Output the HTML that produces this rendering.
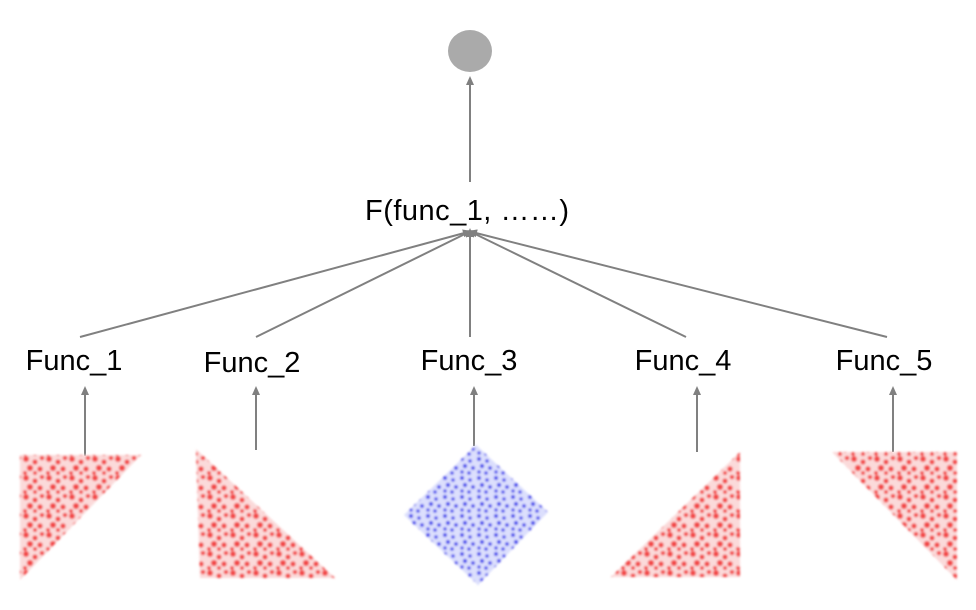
<!DOCTYPE html>
<html><head><style>body{margin:0;background:#fff}svg{display:block}text{font-family:"Liberation Sans",sans-serif;font-size:29px;fill:#000}</style></head><body>
<svg width="976" height="610" viewBox="0 0 976 610">
<defs>
<marker id="a" markerWidth="10" markerHeight="10" refX="5" refY="5" orient="auto" markerUnits="userSpaceOnUse"><path d="M0,1 L9,5 L0,9 z" fill="#808080"/></marker>
<filter id="b"><feGaussianBlur stdDeviation="1.1"/></filter>
<pattern id="r" width="23" height="19" patternUnits="userSpaceOnUse">
<rect width="23" height="19" fill="#fbdada"/>
<g fill="#f02020" opacity="0.8"><circle cx="3" cy="3" r="3"/><circle cx="12" cy="6" r="2.6"/><circle cx="19" cy="2" r="2.3"/><circle cx="7" cy="12" r="3.1"/><circle cx="17" cy="13" r="2.7"/><circle cx="12" cy="17" r="2"/><circle cx="2" cy="17" r="2"/></g>
</pattern>
<pattern id="u" width="17" height="19" patternUnits="userSpaceOnUse">
<rect width="17" height="19" fill="#dcdffd"/>
<g fill="#2020e8" opacity="0.85"><circle cx="3" cy="3" r="2"/><circle cx="11" cy="5" r="1.8"/><circle cx="6" cy="10" r="2.1"/><circle cx="14" cy="12" r="1.9"/><circle cx="3" cy="16" r="1.7"/><circle cx="10" cy="17" r="1.8"/></g>
</pattern>
</defs>
<ellipse cx="470" cy="51" rx="22" ry="21" fill="#aaaaaa"/>
<g stroke="#808080" stroke-width="2" marker-end="url(#a)" fill="none">
<line x1="470" y1="182" x2="470" y2="80"/>
<line x1="80" y1="337" x2="468" y2="232"/>
<line x1="256" y1="337" x2="469" y2="232"/>
<line x1="470" y1="337" x2="470" y2="232"/>
<line x1="686" y1="337" x2="471" y2="232"/>
<line x1="887" y1="337" x2="472" y2="232"/>
<line x1="85" y1="456" x2="85" y2="390"/>
<line x1="256" y1="450" x2="256" y2="390"/>
<line x1="474" y1="446" x2="474" y2="390"/>
<line x1="697" y1="452" x2="697" y2="390"/>
<line x1="893" y1="452" x2="893" y2="390"/>
</g>
<text x="467" y="220" text-anchor="middle" textLength="204">F(func_1, ……)</text>
<text x="74" y="370" text-anchor="middle">Func_1</text>
<text x="252" y="372" text-anchor="middle">Func_2</text>
<text x="469" y="370" text-anchor="middle">Func_3</text>
<text x="683" y="370" text-anchor="middle">Func_4</text>
<text x="884" y="370" text-anchor="middle">Func_5</text>
<g filter="url(#b)">
<polygon points="20,455 141,455 20,580" fill="url(#r)"/>
<polygon points="196,449 200,578 335,578" fill="url(#r)"/>
<polygon points="476,445 548,512 478,585 404,515" fill="url(#u)"/>
<polygon points="611,577 740,452 740,577" fill="url(#r)"/>
<polygon points="832,452 957,452 957,580" fill="url(#r)"/>
</g>
</svg>
</body></html>
